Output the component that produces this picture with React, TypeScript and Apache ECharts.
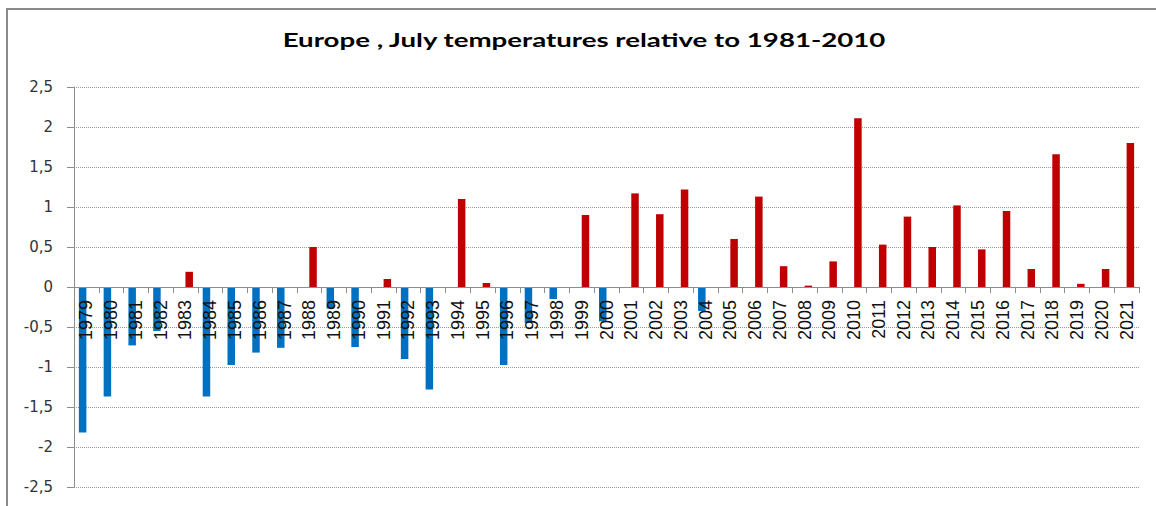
import React, { useEffect, useRef } from "react";
import * as echarts from "echarts";

const years: string[] = [
  "1979", "1980", "1981", "1982", "1983", "1984", "1985", "1986", "1987", "1988",
  "1989", "1990", "1991", "1992", "1993", "1994", "1995", "1996", "1997", "1998",
  "1999", "2000", "2001", "2002", "2003", "2004", "2005", "2006", "2007", "2008",
  "2009", "2010", "2011", "2012", "2013", "2014", "2015", "2016", "2017", "2018",
  "2019", "2020", "2021",
];

const anomalies: number[] = [
  -1.82, -1.37, -0.73, -0.55, 0.19, -1.37, -0.975, -0.82, -0.76, 0.5,
  -0.27, -0.75, 0.1, -0.9, -1.28, 1.1, 0.05, -0.975, -0.45, -0.15,
  0.9, -0.43, 1.17, 0.91, 1.22, -0.3, 0.6, 1.13, 0.26, 0.017,
  0.32, 2.11, 0.53, 0.88, 0.5, 1.02, 0.47, 0.95, 0.225, 1.66,
  0.04, 0.225, 1.8,
];

const coldValues = anomalies.map((v) => (v < 0 ? v : "-"));
const warmValues = anomalies.map((v) => (v >= 0 ? v : "-"));

const titleText = "Europe , July temperatures relative to 1981-2010";

export default function App() {
  const ref = useRef<HTMLDivElement>(null);
  useEffect(() => {
    document.body.style.margin = "0";
    if (!ref.current) return;
    const chart = echarts.init(ref.current, undefined, { renderer: "svg" });
    chart.setOption({
      animation: false,
      backgroundColor: "#ffffff",
      graphic: [
        {
          type: "rect",
          shape: { x: 7, y: 9, width: 1170, height: 520 },
          style: { fill: "none", stroke: "#8a8a8a", lineWidth: 2 },
          silent: true,
        },
        {
          type: "text",
          x: 584,
          y: 40,
          scaleX: 1.455,
          style: {
            text: titleText,
            textAlign: "center",
            textVerticalAlign: "middle",
            font: "bold 19px Lato, 'Open Sans', sans-serif",
            fill: "#000000",
          },
        },
      ],
      grid: {
        left: 74,
        right: 17,
        top: 87,
        bottom: 19,
        containLabel: false,
        outerBoundsMode: "none",
      },
      xAxis: {
        type: "category",
        data: years,
        position: "bottom",
        offset: -200,
        z: 5,
        axisLine: { onZero: false, lineStyle: { color: "#8c8c8c", width: 1 } },
        axisTick: { show: true, length: 6, alignWithLabel: false, lineStyle: { color: "#8c8c8c" } },
        axisLabel: {
          interval: 0,
          rotate: 90,
          margin: 13,
          fontSize: 18,
          fontFamily: "'Liberation Sans', Arial, sans-serif",
          color: "#111111",
        },
        splitLine: { show: false },
      },
      yAxis: {
        type: "value",
        min: -2.5,
        max: 2.5,
        interval: 0.5,
        axisLine: { show: true, lineStyle: { color: "#8c8c8c", width: 1 } },
        axisTick: { show: true, length: 7, inside: false, lineStyle: { color: "#8c8c8c" } },
        axisLabel: {
          margin: 21,
          fontSize: 15,
          fontFamily: "DejaVu Sans",
          color: "#333333",
          formatter: (v: number) => String(v).replace(".", ","),
        },
        splitLine: { show: true, lineStyle: { color: "#9a9a9a", type: [1, 1], width: 1 } },
      },
      series: [
        {
          name: "cold",
          type: "bar",
          data: coldValues,
          barWidth: 7.5,
          barGap: "0%",
          itemStyle: { color: "#0070C0" },
        },
        {
          name: "warm",
          type: "bar",
          data: warmValues,
          barWidth: 7.5,
          barGap: "0%",
          itemStyle: { color: "#C00000" },
        },
      ],
    });
    return () => chart.dispose();
  }, []);
  return <div ref={ref} style={{ width: 1156, height: 506 }} />;
}
